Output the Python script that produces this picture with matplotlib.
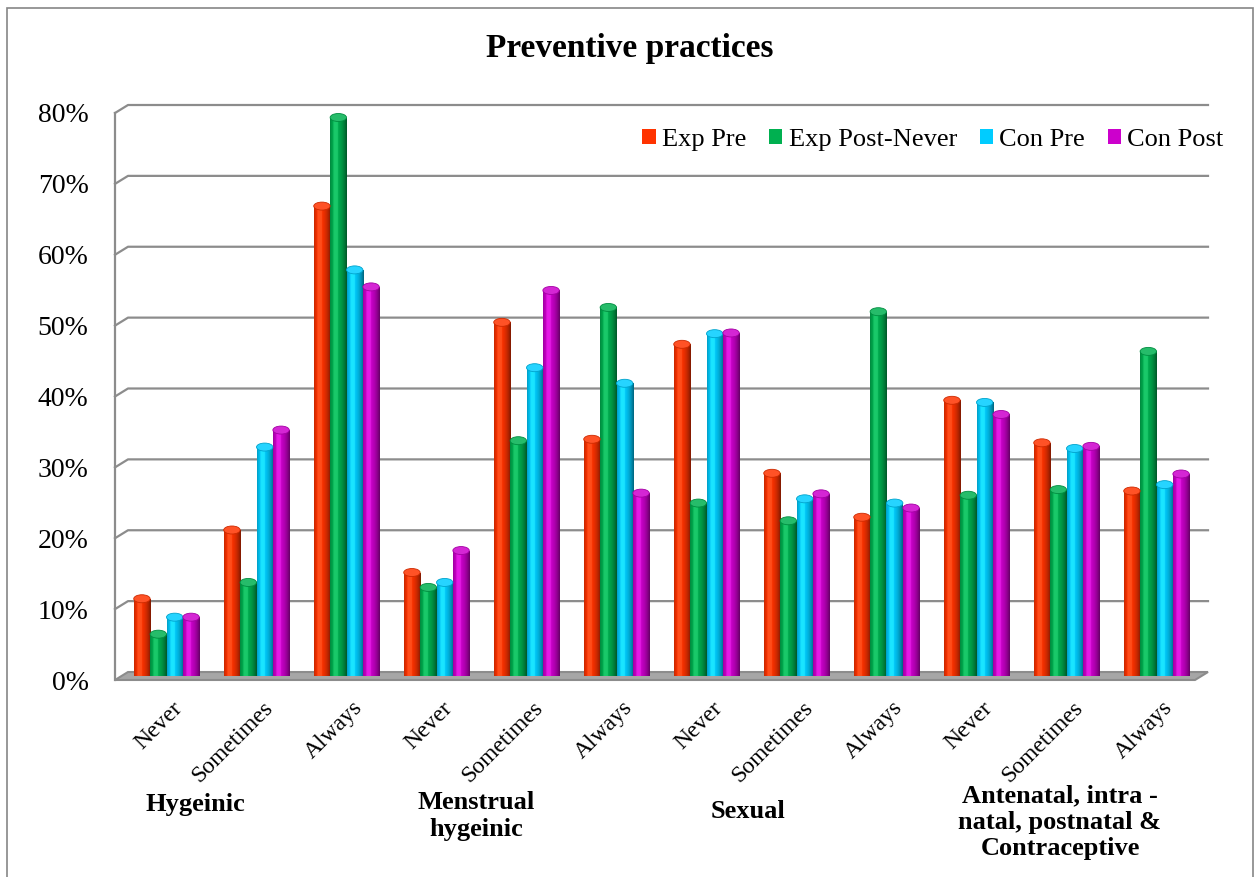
import numpy as np
import matplotlib.pyplot as plt
from matplotlib.patches import Ellipse, Polygon, Rectangle
from matplotlib.transforms import ScaledTranslation
from matplotlib.colors import to_rgb

plt.rcParams['font.family'] = ['Liberation Serif', 'DejaVu Serif']

# Survey data: share of respondents per practice frequency
practices = ['Hygeinic', 'Menstrual\nhygeinic', 'Sexual',
             'Antenatal, intra -\nnatal, postnatal &\nContraceptive']
frequencies = ['Never', 'Sometimes', 'Always'] * 4
series = ['Exp Pre', 'Exp Post-Never', 'Con Pre', 'Con Post']
exp_pre = [0.109, 0.206, 0.663, 0.146, 0.499, 0.334, 0.468, 0.286, 0.224, 0.389, 0.329, 0.261]
exp_post = [0.059, 0.132, 0.788, 0.125, 0.332, 0.520, 0.244, 0.219, 0.514, 0.255, 0.263, 0.458]
con_pre = [0.083, 0.323, 0.573, 0.132, 0.435, 0.413, 0.483, 0.250, 0.244, 0.386, 0.321, 0.270]
con_post = [0.083, 0.347, 0.549, 0.177, 0.544, 0.258, 0.484, 0.257, 0.237, 0.369, 0.324, 0.285]
yticks = [0.0, 0.1, 0.2, 0.3, 0.4, 0.5, 0.6, 0.7, 0.8]
colors = ['#FF3300', '#00B050', '#00CCFF', '#CC00CC']

W, H = 1260, 877
fig = plt.figure(figsize=(W / 100, H / 100), dpi=100)
ax = fig.add_axes([115 / W, 1 - 680 / H, 1080 / W, 567 / H])
ax.set_xlim(-0.5, 11.5)
ax.set_ylim(0, 0.8)

# depth of the pseudo-3D box, in data units
depth_x = 13 / 90
depth_y = 8 / (567 / 0.8)

# floor
floor = Polygon([(-0.5, 0), (11.5, 0), (11.5 + depth_x, depth_y), (-0.5 + depth_x, depth_y)],
                closed=True, facecolor='#A6A6A6', edgecolor='#8C8C8C', lw=1.5,
                clip_on=False, zorder=1)
ax.add_patch(floor)

# back wall gridlines with the left-wall diagonal
for v in yticks[1:]:
    ax.plot([-0.5, -0.5 + depth_x, 11.5 + depth_x], [v, v + depth_y, v + depth_y],
            color='#8C8C8C', lw=1.6, clip_on=False, zorder=0.5)
ax.plot([-0.5, -0.5], [0, 0.8], color='#8C8C8C', lw=1.6, clip_on=False, zorder=0.5)

# bars sit half way into the box
bar_shift = ax.transData + ScaledTranslation(6.5 / 100, 4 / 100, fig.dpi_scale_trans)

x = np.arange(len(frequencies))
width = 0.182
cols = np.linspace(0, 1, 40)
shade = np.where(cols < 0.32,
                 1 - 0.22 * ((0.32 - cols) / 0.32) ** 2,
                 1 - 0.5 * ((cols - 0.32) / 0.68) ** 2)

handles = []
for j, (name, vals, c) in enumerate(zip(series, [exp_pre, exp_post, con_pre, con_post], colors)):
    xs = x + (j - 1.5) * width
    bars = ax.bar(xs, vals, width=width, color=c, label=name, transform=bar_shift,
                  zorder=2, linewidth=0)
    handles.append(bars)
    base = np.array(to_rgb(c))
    grad = np.clip(base[None, :] * shade[:, None] + 0.1 * (shade[:, None] > 0.97), 0, 1)
    img = grad[None, :, :]
    cap_col = np.clip(base * 0.85 + 0.15, 0, 1)
    for xi, v, b in zip(xs, vals, bars):
        im = ax.imshow(img, extent=(xi - width / 2, xi + width / 2, 0, v),
                       aspect='auto', transform=bar_shift, zorder=2.1, interpolation='bilinear')
        im.set_clip_path(b)
        ax.add_patch(Ellipse((xi, v), width, depth_y, facecolor=cap_col,
                             edgecolor=base * 0.8, lw=0.6, transform=bar_shift, zorder=2.2,
                             clip_on=False))

ax.set_xlim(-0.5, 11.5)
ax.set_ylim(0, 0.8)

for s in ['top', 'right', 'bottom', 'left']:
    ax.spines[s].set_visible(False)

ax.set_yticks(yticks, [f'{round(v * 100)}%' for v in yticks], fontsize=20)
ax.tick_params(axis='y', length=0, pad=19)
ax.set_xticks(x, frequencies, rotation=45, ha='right', rotation_mode='anchor', fontsize=17)
ax.tick_params(axis='x', length=0, pad=4)
for lab in ax.get_xticklabels():
    lab.set_transform(lab.get_transform() + ScaledTranslation(0.12, -0.12, fig.dpi_scale_trans))

# practice group labels
group_pos = [(195, 805), (476, 816), (748, 812), (1060, 822)]
for text, (px, py) in zip(practices, group_pos):
    fig.text(px / W, 1 - py / H, text, ha='center', va='center', fontsize=19,
             fontweight='bold', linespacing=1.2)

fig.text(630 / W, 1 - 48 / H, 'Preventive practices', ha='center', va='center',
         fontsize=24, fontweight='bold')

fig.legend(handles=handles, labels=series, loc='center', bbox_to_anchor=(933 / W, 1 - 140 / H),
           ncol=4, frameon=False, fontsize=19, handlelength=0.5, handleheight=0.5,
           handletextpad=0.25, columnspacing=0.85)

# chart border
fig.patches.append(Rectangle((7 / W, -0.02), 1246 / W, 1.02 - 8 / H, transform=fig.transFigure,
                             fill=False, edgecolor='#868686', lw=1.2))

fig.savefig('out.png', dpi=100)
